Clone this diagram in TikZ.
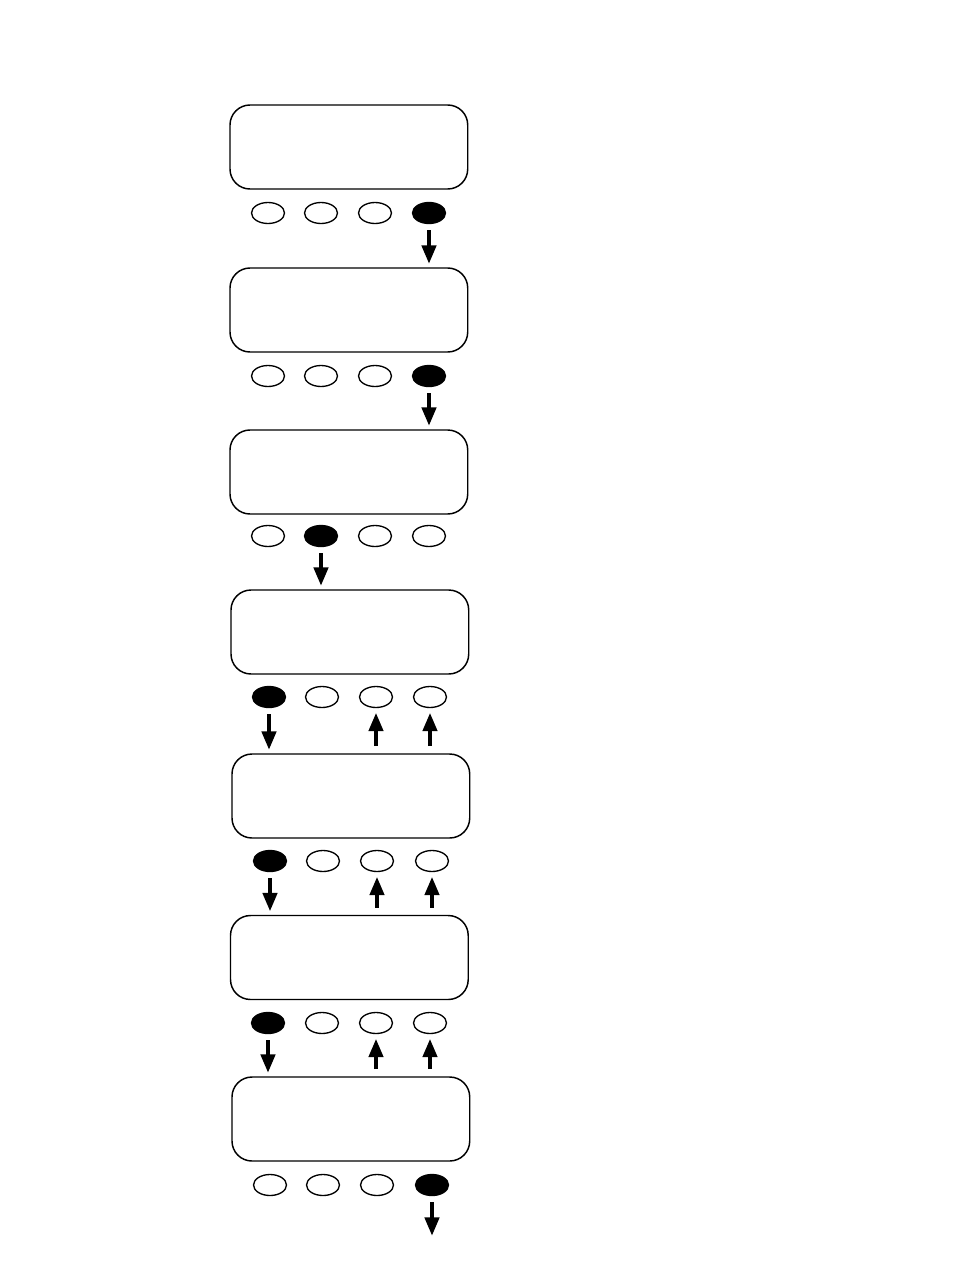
\documentclass[tikz,border=0pt]{standalone}
\usetikzlibrary{shapes.geometric,arrows.meta}
\begin{document}
\begin{tikzpicture}[x=0.75pt,y=-0.75pt,
 screen/.style={draw,line width=1.1pt,rounded corners=15pt,minimum width=178.3pt,minimum height=63pt,inner sep=0pt,outer sep=0pt,anchor=north west},
 key/.style={draw,ellipse,line width=1pt,minimum width=24.75pt,minimum height=15.75pt,inner sep=0pt,outer sep=0pt},
 pressed/.style={key,fill=black},
 arr/.style={line width=3.3pt,-{Triangle[width=10.5pt,length=14pt]}},
 down/.style={arr,shorten <=4.9pt,shorten >=3pt},
 up/.style={arr,shorten <=6pt,shorten >=3.8pt}]
\useasboundingbox (0,0) rectangle (954,1272);
% panel 1
\node[screen] (s1) at (230,105) {};
\node[key] (k1a) at (268,213) {};
\node[key] (k1b) at (321,213) {};
\node[key] (k1c) at (375,213) {};
\node[pressed] (k1d) at (429,213) {};
% panel 2
\node[screen] (s2) at (230,268) {};
\node[key] (k2a) at (268,376) {};
\node[key] (k2b) at (321,376) {};
\node[key] (k2c) at (375,376) {};
\node[pressed] (k2d) at (429,376) {};
% panel 3
\node[screen] (s3) at (230,430) {};
\node[key] (k3a) at (268,536) {};
\node[pressed] (k3b) at (321,536) {};
\node[key] (k3c) at (375,536) {};
\node[key] (k3d) at (429,536) {};
% panel 4
\node[screen] (s4) at (231,590) {};
\node[pressed] (k4a) at (269,697) {};
\node[key] (k4b) at (322,697) {};
\node[key] (k4c) at (376,697) {};
\node[key] (k4d) at (430,697) {};
% panel 5
\node[screen] (s5) at (232,754) {};
\node[pressed] (k5a) at (270,861) {};
\node[key] (k5b) at (323,861) {};
\node[key] (k5c) at (377,861) {};
\node[key] (k5d) at (432,861) {};
% panel 6
\node[screen] (s6) at (230.5,915.5) {};
\node[pressed] (k6a) at (268,1023) {};
\node[key] (k6b) at (322,1023) {};
\node[key] (k6c) at (376,1023) {};
\node[key] (k6d) at (430,1023) {};
% panel 7
\node[screen] (s7) at (232,1077) {};
\node[key] (k7a) at (270,1185) {};
\node[key] (k7b) at (323,1185) {};
\node[key] (k7c) at (377,1185) {};
\node[pressed] (k7d) at (432,1185) {};
\coordinate (end) at (432,1236);
% connectors
\draw[down] (k1d.south) -- (k1d.south |- s2.north);
\draw[down] (k2d.south) -- (k2d.south |- s3.north);
\draw[down] (k3b.south) -- (k3b.south |- s4.north);
\draw[down] (k4a.south) -- (k4a.south |- s5.north);
\draw[up] (k4c.south |- s5.north) -- (k4c.south);
\draw[up] (k4d.south |- s5.north) -- (k4d.south);
\draw[down] (k5a.south) -- (k5a.south |- s6.north);
\draw[up] (k5c.south |- s6.north) -- (k5c.south);
\draw[up] (k5d.south |- s6.north) -- (k5d.south);
\draw[down] (k6a.south) -- (k6a.south |- s7.north);
\draw[up] (k6c.south |- s7.north) -- (k6c.south);
\draw[up] (k6d.south |- s7.north) -- (k6d.south);
\draw[down,shorten >=0pt] (k7d.south) -- (end);
\end{tikzpicture}
\end{document}
